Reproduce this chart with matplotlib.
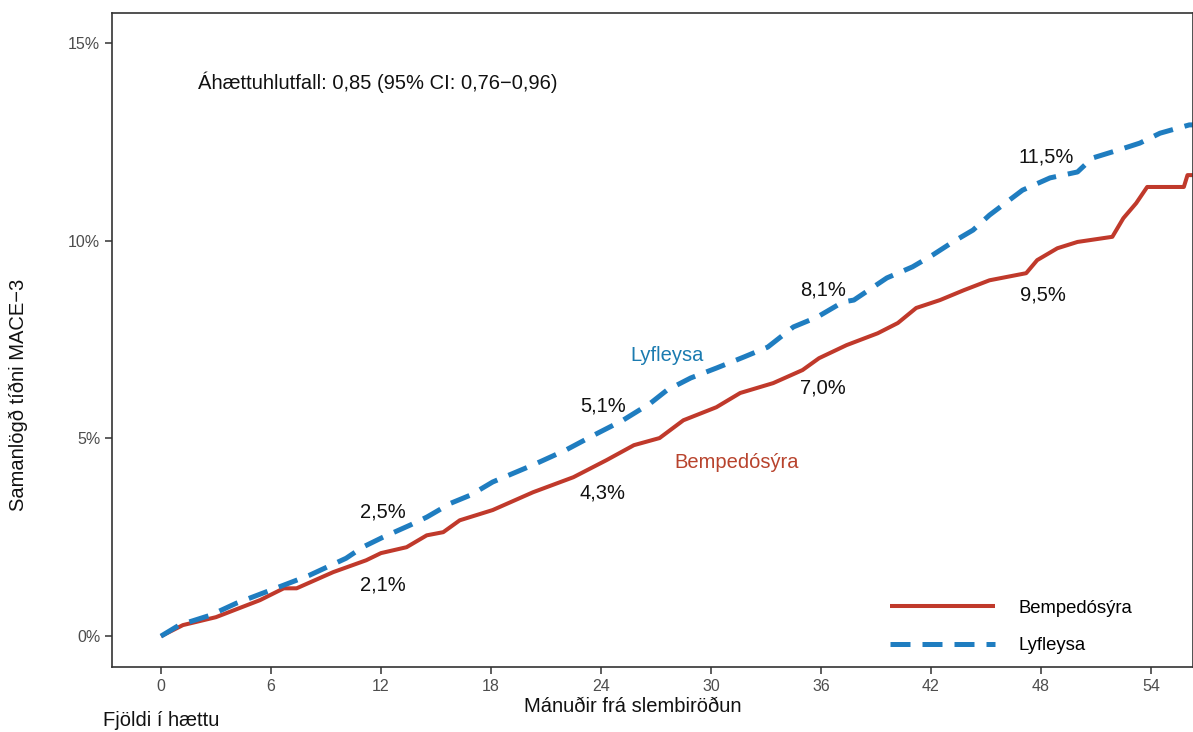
import numpy as np
import matplotlib.pyplot as plt
from matplotlib.ticker import FuncFormatter

plt.rcParams['font.family'] = ['Liberation Sans', 'DejaVu Sans']

# Cumulative incidence (months, percent)
bemp_months = [0, 1.2, 3.0, 5.4, 6.7, 7.4, 9.4, 11.2, 12.0, 13.4, 14.5, 15.4, 16.3, 18.1,
               20.3, 22.5, 24.3, 25.8, 27.2, 28.5, 30.3, 31.6, 33.4, 35.0, 35.9, 37.4,
               39.1, 40.2, 41.2, 42.5, 43.8, 45.2, 47.2, 47.8, 48.9, 50.0, 51.9, 52.5,
               53.2, 53.8, 55.8, 56.0, 56.4]
bemp_pct = [0, 0.28, 0.48, 0.91, 1.21, 1.21, 1.62, 1.92, 2.1, 2.25, 2.55, 2.63, 2.93, 3.19,
            3.64, 4.02, 4.45, 4.83, 5.01, 5.46, 5.79, 6.15, 6.40, 6.73, 7.03, 7.36,
            7.66, 7.92, 8.30, 8.50, 8.75, 9.00, 9.18, 9.51, 9.81, 9.97, 10.10, 10.57,
            10.95, 11.36, 11.36, 11.66, 11.66]

plac_months = [0, 1.0, 2.7, 4.1, 6.7, 8.1, 10.1, 11.0, 12.1, 13.6, 14.5, 15.8, 16.9, 18.1,
               20.3, 22.1, 23.6, 25.2, 26.7, 27.6, 28.9, 30.3, 31.8, 33.1, 34.5, 35.8,
               37.2, 37.8, 39.6, 41.0, 42.1, 43.2, 44.3, 45.2, 47.0, 48.5, 50.0, 50.8,
               52.2, 53.4, 54.5, 56.1, 56.4]
plac_pct = [0, 0.28, 0.53, 0.83, 1.29, 1.54, 1.97, 2.25, 2.5, 2.81, 3.01, 3.36, 3.57, 3.90,
            4.33, 4.71, 5.08, 5.46, 5.89, 6.22, 6.53, 6.78, 7.06, 7.31, 7.82, 8.07,
            8.45, 8.50, 9.06, 9.34, 9.64, 9.97, 10.27, 10.65, 11.28, 11.59, 11.74, 12.09,
            12.29, 12.47, 12.72, 12.93, 12.93]

# value labels at 12/24/36/48 months
lab_months = [12, 24, 36, 48]
bemp_lab = ['2,1%', '4,3%', '7,0%', '9,5%']
plac_lab = ['2,5%', '5,1%', '8,1%', '11,5%']
bemp_lab_y = [1.29, 3.62, 6.27, 8.63]
plac_lab_y = [3.14, 5.82, 8.75, 12.12]

x_ticks = list(range(0, 55, 6))
y_ticks = [0, 5, 10, 15]

red = '#C0392B'
blue = '#1F7DC0'
fs = 14.5

fig = plt.figure(figsize=(11.93, 7.32), dpi=100)
fig.patch.set_facecolor('white')
ax = fig.add_axes([112 / 1193, 65 / 732, 1.0 - 112 / 1193, 654 / 732])

ax.plot(bemp_months, bemp_pct, color=red, lw=2.9, label='Bempedósýra', solid_capstyle='butt')
ax.plot(plac_months, plac_pct, color=blue, lw=3.6, dashes=(4, 2.4), label='Lyfleysa')

for m, t, y in zip(lab_months, bemp_lab, bemp_lab_y):
    ax.text(m + 0.1, y, t, ha='center', va='center', fontsize=fs, color='#111111')
for m, t, y in zip(lab_months, plac_lab, plac_lab_y):
    ax.text(m + (0.3 if m == 48 else 0.1), y, t, ha='center', va='center', fontsize=fs, color='#111111')

ax.text(27.6, 7.1, 'Lyfleysa', ha='center', va='center', fontsize=fs, color='#1B7BB0')
ax.text(31.4, 4.4, 'Bempedósýra', ha='center', va='center', fontsize=fs, color='#B8432D')
ax.text(2.0, 14.0, 'Áhættuhlutfall: 0,85 (95% CI: 0,76\u22120,96)', ha='left', va='center',
        fontsize=fs, color='#111111')

ax.set_xlim(-2.67, 56.3)
ax.set_ylim(-0.78, 15.76)
ax.set_xticks(x_ticks)
ax.set_yticks(y_ticks)
ax.yaxis.set_major_formatter(FuncFormatter(lambda v, p: f'{v:.0f}%'))
ax.tick_params(axis='both', labelsize=11.5, labelcolor='#4D4D4D', color='#333333',
               length=5, width=1.1)
for s in ax.spines.values():
    s.set_color('#333333')
    s.set_linewidth(1.2)

ax.set_xlabel('Mánuðir frá slembiröðun', fontsize=fs, color='#111111')
ax.xaxis.set_label_coords((633 - 112) / 1081, -(707 - 667) / 654)
ax.set_ylabel('Samanlögð tíðni MACE\u22123', fontsize=fs, color='#111111')
ax.yaxis.set_label_coords((18 - 112) / 1081, (667 - 395) / 654)
ax.xaxis.label.set_va('center')
ax.yaxis.label.set_va('center')

leg = ax.legend(loc='upper left', bbox_to_anchor=(0.704, 0.128), frameon=False,
                fontsize=13.3, handlelength=5.7, handletextpad=1.25, labelspacing=1.1)

fig.text(103 / 1193, 1 - 721 / 732, 'Fjöldi í hættu', ha='left', va='center',
         fontsize=fs, color='#111111')

fig.savefig('out.png', dpi=100, facecolor='white')
